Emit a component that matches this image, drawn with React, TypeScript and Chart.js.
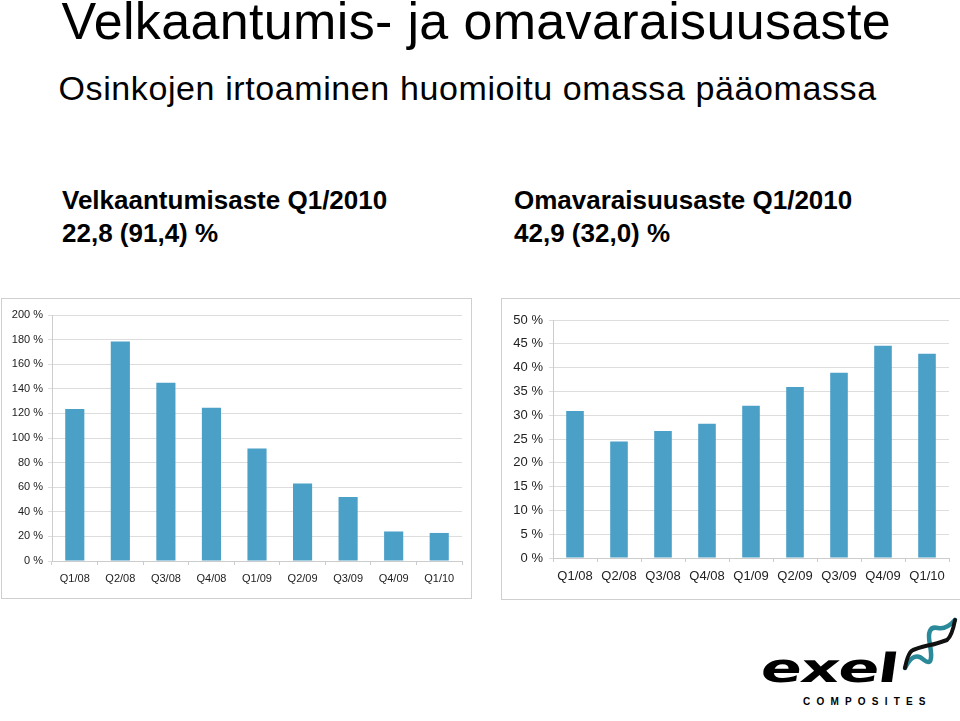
import React, { useEffect, useRef } from "react";
import { Chart, registerables } from "chart.js";

Chart.register(...registerables);

const categories = ["Q1/08", "Q2/08", "Q3/08", "Q4/08", "Q1/09", "Q2/09", "Q3/09", "Q4/09", "Q1/10"];
const gearingValues = [123.5, 178.5, 145, 124.5, 91.4, 63, 52, 24, 22.8];
const equityRatioValues = [30.9, 24.5, 26.7, 28.2, 32.0, 35.9, 38.9, 44.6, 42.9];
const gearingTicks = { min: 0, max: 200, step: 20 };
const equityTicks = { min: 0, max: 50, step: 5 };

const BAR_COLOR = "#4BA0C8";
const FONT = "'Liberation Sans', Arial, Helvetica, sans-serif";

type BarProps = {
  values: number[];
  ticks: { min: number; max: number; step: number };
  width: number;
  height: number;
  fontSize: number;
  yWidth: number;
  xHeight: number;
  padTop: number;
  padRight: number;
  yPad: number;
  barPct: number;
};

function BarChart(p: BarProps) {
  const ref = useRef<HTMLCanvasElement | null>(null);
  useEffect(() => {
    if (!ref.current) return;
    const chart = new Chart(ref.current, {
      type: "bar",
      data: {
        labels: categories,
        datasets: [
          {
            data: p.values,
            backgroundColor: BAR_COLOR,
            borderWidth: 0,
            barPercentage: p.barPct,
            categoryPercentage: 1,
          },
        ],
      },
      options: {
        animation: false,
        responsive: false,
        devicePixelRatio: 1,
        layout: { padding: { left: 0, right: p.padRight, top: p.padTop, bottom: 0 } },
        plugins: { legend: { display: false }, tooltip: { enabled: false } },
        scales: {
          x: {
            grid: { drawOnChartArea: false, drawTicks: true, tickLength: 4, color: "#cccccc" },
            border: { color: "#cccccc" },
            ticks: { color: "#222", font: { family: FONT, size: p.fontSize }, padding: 7, maxRotation: 0 },
            afterFit: (s: any) => {
              s.height = p.xHeight;
            },
          },
          y: {
            min: p.ticks.min,
            max: p.ticks.max,
            grid: { color: "#dddddd", tickLength: 4 },
            border: { color: "#cccccc" },
            ticks: {
              stepSize: p.ticks.step,
              color: "#222",
              font: { family: FONT, size: p.fontSize },
              padding: p.yPad,
              callback: (v: any) => v + " %",
            },
            afterFit: (s: any) => {
              s.width = p.yWidth;
            },
          },
        },
      },
    });
    return () => chart.destroy();
  }, []);
  return <canvas ref={ref} width={p.width} height={p.height} style={{ width: p.width, height: p.height, display: "block" }} />;
}

const abs = (l: number, t: number, extra: React.CSSProperties = {}): React.CSSProperties => ({
  position: "absolute",
  left: l,
  top: t,
  whiteSpace: "nowrap",
  fontFamily: FONT,
  color: "#000",
  ...extra,
});

export default function App() {
  useEffect(() => {
    document.body.style.margin = "0";
  }, []);
  return (
    <div style={{ position: "relative", width: 960, height: 721, overflow: "hidden", background: "#fff" }}>
      <div style={abs(61.5, -5, { fontSize: 52, lineHeight: "52px", letterSpacing: "0.35px" })}>
        Velkaantumis- ja omavaraisuusaste
      </div>
      <div style={abs(58.5, 71, { fontSize: 34, lineHeight: "34px", letterSpacing: "0.6px" })}>
        Osinkojen irtoaminen huomioitu omassa pääomassa
      </div>

      <div style={abs(62, 183.5, { fontSize: 26, lineHeight: "33px", fontWeight: "bold" })}>
        Velkaantumisaste Q1/2010
        <br />
        22,8 (91,4) %
      </div>
      <div style={abs(514, 183.5, { fontSize: 26, lineHeight: "33px", fontWeight: "bold" })}>
        Omavaraisuusaste Q1/2010
        <br />
        42,9 (32,0) %
      </div>

      <div style={abs(1, 298, { width: 471, height: 301, border: "1px solid #cfcfcf", boxSizing: "border-box" })} />
      <div style={abs(1, 298)}>
        <BarChart
          values={gearingValues}
          ticks={gearingTicks}
          width={470}
          height={300}
          fontSize={11}
          yWidth={51}
          xHeight={37}
          padTop={17}
          padRight={9}
          yPad={5}
          barPct={0.42}
        />
      </div>

      <div style={abs(501, 298, { width: 470, height: 302, border: "1px solid #cfcfcf", boxSizing: "border-box" })} />
      <div style={abs(501, 298)}>
        <BarChart
          values={equityRatioValues}
          ticks={equityTicks}
          width={459}
          height={301}
          fontSize={13}
          yWidth={52}
          xHeight={41}
          padTop={22}
          padRight={11}
          yPad={6}
          barPct={0.4}
        />
      </div>

      <div
        style={abs(764, 648, {
          fontSize: 40,
          lineHeight: "40px",
          fontWeight: 900,
          fontFamily: "'DejaVu Sans', sans-serif",
          transform: "skewX(-8deg) scaleX(1.52)",
          transformOrigin: "left top",
          letterSpacing: "-1px",
        })}
      >
        exel
      </div>
      <div
        style={abs(803, 697, {
          fontSize: 10,
          lineHeight: "10px",
          fontWeight: "bold",
          letterSpacing: "6.2px",
        })}
      >
        COMPOSITES
      </div>
      <svg style={{ position: "absolute", left: 0, top: 0 }} width={960} height={721}>
        <path d="M 905 668 Q 914 650 924 660 Q 934 668 930 645 Q 926 625 938 628 Q 946 630 955 620" fill="none" stroke="#2b8a99" strokeWidth={4.5} strokeLinecap="round" />
        <path d="M 905 668 Q 908 652 913 650 Q 924 646 930 645 Q 936 644 947 640 Q 952 636 955 620" fill="none" stroke="#111" strokeWidth={4} strokeLinecap="round" />
      </svg>
    </div>
  );
}
